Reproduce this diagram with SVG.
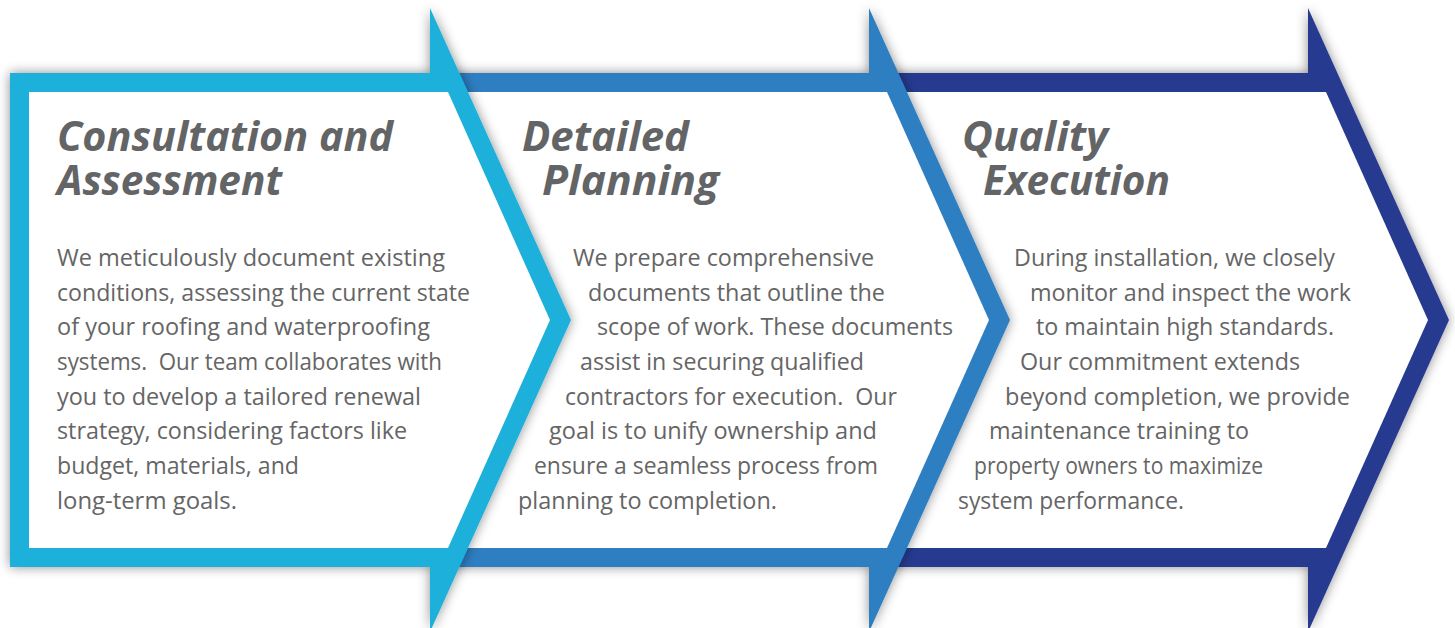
<svg xmlns="http://www.w3.org/2000/svg" width="1455" height="628" viewBox="0 0 1455 628">
<style>
.h{font-family:"Open Sans","Noto Sans","Liberation Sans",sans-serif;font-weight:700;font-style:italic;font-size:41px;fill:#636466}
.b{font-family:"Open Sans","Noto Sans","Liberation Sans",sans-serif;font-size:23.5px;fill:#656565}
.in{fill:#ffffff}
</style>
<defs>
<filter id="sh" x="-5%" y="-5%" width="110%" height="110%">
<feGaussianBlur in="SourceAlpha" stdDeviation="6" result="bl"/>
<feFlood flood-color="#000" flood-opacity="0.45"/>
<feComposite in2="bl" operator="in"/>
<feMerge><feMergeNode/><feMergeNode in="SourceGraphic"/></feMerge>
</filter>
</defs>
<rect width="1455" height="628" fill="#ffffff"/>

<g id="node3">
<g filter="url(#sh)">
<path d="M884,73 H1308 V8 L1449,320 L1308,632 V567 H884 Z" fill="#283A8F"/>
<path class="in" d="M894,92 H1326 L1428,320 L1326,548 H894 Z"/>
</g>
<text class="h" x="962" y="151" textLength="146" lengthAdjust="spacingAndGlyphs">Quality</text>
<text class="h" x="983" y="195" textLength="187" lengthAdjust="spacingAndGlyphs">Execution</text>
<g class="b">
<text x="1014" y="266" textLength="321" lengthAdjust="spacingAndGlyphs">During installation, we closely</text>
<text x="1030" y="300.7" textLength="321" lengthAdjust="spacingAndGlyphs">monitor and inspect the work</text>
<text x="1036" y="335.4" textLength="298" lengthAdjust="spacingAndGlyphs">to maintain high standards.</text>
<text x="1020" y="370" textLength="280" lengthAdjust="spacingAndGlyphs">Our commitment extends</text>
<text x="1005" y="404.7" textLength="345" lengthAdjust="spacingAndGlyphs">beyond completion, we provide</text>
<text x="989" y="439.4" textLength="260" lengthAdjust="spacingAndGlyphs">maintenance training to</text>
<text x="974" y="474" textLength="289" lengthAdjust="spacingAndGlyphs">property owners to maximize</text>
<text x="958" y="508.8" textLength="226" lengthAdjust="spacingAndGlyphs">system performance.</text>
</g>
</g>

<g id="node2">
<g filter="url(#sh)">
<path d="M445,73 H869 V8 L1010,320 L869,632 V567 H445 Z" fill="#2F7EC2"/>
<path class="in" d="M455,92 H887 L989,320 L887,548 H455 Z"/>
</g>
<text class="h" x="522" y="151" textLength="167" lengthAdjust="spacingAndGlyphs">Detailed</text>
<text class="h" x="542" y="195" textLength="177" lengthAdjust="spacingAndGlyphs">Planning</text>
<g class="b">
<text x="573" y="266" textLength="301" lengthAdjust="spacingAndGlyphs">We prepare comprehensive</text>
<text x="588" y="300.7" textLength="297" lengthAdjust="spacingAndGlyphs">documents that outline the</text>
<text x="597" y="335.4" textLength="356" lengthAdjust="spacingAndGlyphs">scope of work. These documents</text>
<text x="580" y="370" textLength="284" lengthAdjust="spacingAndGlyphs">assist in securing qualified</text>
<text x="565" y="404.7" textLength="332" lengthAdjust="spacingAndGlyphs" xml:space="preserve">contractors for execution.  Our</text>
<text x="549" y="439.4" textLength="328" lengthAdjust="spacingAndGlyphs">goal is to unify ownership and</text>
<text x="534" y="474" textLength="344" lengthAdjust="spacingAndGlyphs">ensure a seamless process from</text>
<text x="518" y="508.8" textLength="259" lengthAdjust="spacingAndGlyphs">planning to completion.</text>
</g>
</g>

<g id="node1">
<g filter="url(#sh)">
<path d="M10,73 H430 V8 L571,320 L430,632 V567 H10 Z" fill="#1DB0DB"/>
<path class="in" d="M29,92 H448 L550,320 L448,548 H29 Z"/>
</g>
<text class="h" x="57" y="151" textLength="336" lengthAdjust="spacingAndGlyphs">Consultation and</text>
<text class="h" x="57" y="195" textLength="225" lengthAdjust="spacingAndGlyphs">Assessment</text>
<g class="b">
<text x="57" y="266" textLength="388" lengthAdjust="spacingAndGlyphs">We meticulously document existing</text>
<text x="57" y="300.7" textLength="413" lengthAdjust="spacingAndGlyphs">conditions, assessing the current state</text>
<text x="57" y="335.4" textLength="373" lengthAdjust="spacingAndGlyphs">of your roofing and waterproofing</text>
<text x="57" y="370" textLength="385" lengthAdjust="spacingAndGlyphs" xml:space="preserve">systems.  Our team collaborates with</text>
<text x="57" y="404.7" textLength="364" lengthAdjust="spacingAndGlyphs">you to develop a tailored renewal</text>
<text x="57" y="439.4" textLength="350" lengthAdjust="spacingAndGlyphs">strategy, considering factors like</text>
<text x="57" y="474" textLength="242" lengthAdjust="spacingAndGlyphs">budget, materials, and</text>
<text x="57" y="508.8" textLength="180" lengthAdjust="spacingAndGlyphs">long-term goals.</text>
</g>
</g>
</svg>
